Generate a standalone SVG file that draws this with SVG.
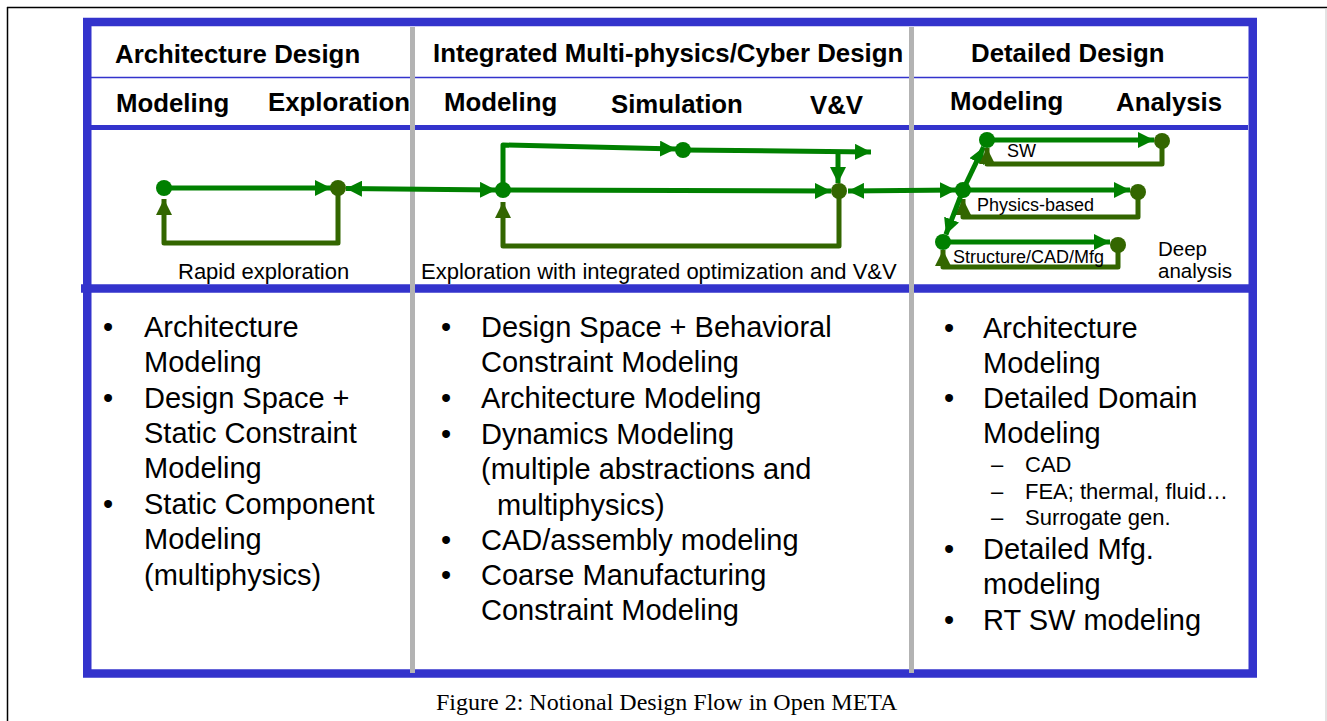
<svg xmlns="http://www.w3.org/2000/svg" width="1327" height="721" viewBox="0 0 1327 721">
<style>
.hd{font-family:"Liberation Sans",Arial,sans-serif;font-weight:bold;font-size:25.8px;fill:#000}
.lb{font-family:"Liberation Sans",Arial,sans-serif;font-size:22px;fill:#000}
.dp{font-family:"Liberation Sans",Arial,sans-serif;font-size:20.5px;fill:#000}
.sm{font-family:"Liberation Sans",Arial,sans-serif;font-size:18px;fill:#000}
.bd{font-family:"Liberation Sans",Arial,sans-serif;font-size:29px;fill:#000}
.sb{font-family:"Liberation Sans",Arial,sans-serif;font-size:22px;fill:#000}
.cap{font-family:"Liberation Serif","Times New Roman",serif;font-size:24px;fill:#000}
.g{stroke:#008000;stroke-width:5;fill:none;stroke-linejoin:round}
.d{stroke:#336600;stroke-width:5;fill:none;stroke-linejoin:round}
.dg{fill:#008000}
.dd{fill:#336600}
.blue{stroke:#3333CC;fill:none}
.gray{stroke:#B3B3B3;stroke-width:5}
</style>
<defs>
<marker id="ag" markerUnits="userSpaceOnUse" markerWidth="16" markerHeight="16" viewBox="0 0 16 16" refX="16" refY="8" orient="auto-start-reverse">
<path d="M0,0 L16,8 L0,16 z" fill="#008000"/>
</marker>
<marker id="ad" markerUnits="userSpaceOnUse" markerWidth="16" markerHeight="16" viewBox="0 0 16 16" refX="16" refY="8" orient="auto-start-reverse">
<path d="M0,0 L16,8 L0,16 z" fill="#336600"/>
</marker>
</defs>
<rect width="1327" height="721" fill="#fff"/>
<g id="page-border">
<line x1="7" y1="7.5" x2="1327" y2="7.5" stroke="#000" stroke-width="1.5"/>
<line x1="7.5" y1="7" x2="7.5" y2="721" stroke="#000" stroke-width="1.5"/>
<line x1="1326" y1="8" x2="1326" y2="721" stroke="#D0D0D0" stroke-width="1.2"/>
</g>
<g id="frame">
<rect class="blue" x="87.25" y="22" width="1165.5" height="651.5" stroke-width="8.5"/>
<line class="blue" x1="91" y1="77.5" x2="1248" y2="77.5" stroke-width="1.5"/>
<line class="blue" x1="91" y1="127.5" x2="1248" y2="127.5" stroke-width="5"/>
<line class="blue" x1="81" y1="288.5" x2="1253" y2="288.5" stroke-width="8.5"/>
<line class="gray" x1="412.5" y1="27" x2="412.5" y2="673"/>
<line class="gray" x1="911.5" y1="27" x2="911.5" y2="673"/>
</g>
<g id="headers">
<text class="hd" x="115" y="63">Architecture Design</text>
<text class="hd" x="433" y="62">Integrated Multi-physics/Cyber Design</text>
<text class="hd" x="971" y="62">Detailed Design</text>
<text class="hd" x="116" y="112">Modeling</text>
<text class="hd" x="268" y="111">Exploration</text>
<text class="hd" x="444" y="111">Modeling</text>
<text class="hd" x="611" y="113">Simulation</text>
<text class="hd" x="810" y="114">V&amp;V</text>
<text class="hd" x="950" y="110">Modeling</text>
<text class="hd" x="1116" y="111">Analysis</text>
</g>
<g id="connectors">
<path class="g" d="M164,188 L331,188" marker-end="url(#ag)"/>
<path class="d" d="M338,188 V243 H164 V199" marker-end="url(#ad)"/>
<path class="g" d="M346,188.5 L496,190" marker-start="url(#ag)" marker-end="url(#ag)"/>
<path class="g" d="M503,190 V145 L676,149" marker-end="url(#ag)"/>
<path class="g" d="M683,150 L871,152" marker-end="url(#ag)"/>
<path class="g" d="M838,152 V183" marker-end="url(#ag)"/>
<path class="g" d="M503,190 L831,191" marker-end="url(#ag)"/>
<path class="d" d="M839,191 V246 H503 V202" marker-end="url(#ad)"/>
<path class="g" d="M848,191 L956,190" marker-start="url(#ag)" marker-end="url(#ag)"/>
<path class="g" d="M963,190 L1130,190" marker-end="url(#ag)"/>
<path class="d" d="M1138,192 V217 H963 V199" marker-end="url(#ad)"/>
<path class="g" d="M963,190 L983.5,147.2" marker-end="url(#ag)"/>
<path class="g" d="M987,140 L1154,140" marker-end="url(#ag)"/>
<path class="d" d="M1162,141 V164 H987 V148" marker-end="url(#ad)"/>
<path class="g" d="M963,190 L945.9,234.5" marker-end="url(#ag)"/>
<path class="g" d="M943,242 L1110,242" marker-end="url(#ag)"/>
<path class="d" d="M1118,245 V267 H943 V250" marker-end="url(#ad)"/>
</g>
<g id="node-arch-model"><circle class="dg" cx="164" cy="188" r="8"/></g>
<g id="node-arch-explore"><circle class="dd" cx="338" cy="188" r="8"/></g>
<g id="node-int-model"><circle class="dg" cx="503" cy="190" r="8"/></g>
<g id="node-int-sim"><circle class="dg" cx="683" cy="150" r="8"/></g>
<g id="node-int-vv"><circle class="dd" cx="839" cy="191" r="8"/></g>
<g id="node-det-model"><circle class="dg" cx="963" cy="190" r="8"/></g>
<g id="node-det-sw"><circle class="dg" cx="987" cy="140" r="8"/></g>
<g id="node-det-struct"><circle class="dg" cx="943" cy="242" r="8"/></g>
<g id="node-ana-sw"><circle class="dd" cx="1162" cy="141" r="8"/></g>
<g id="node-ana-phys"><circle class="dd" cx="1138" cy="192" r="8"/></g>
<g id="node-ana-struct"><circle class="dd" cx="1118" cy="245" r="8"/></g>
<g id="flow-labels">
<text class="lb" x="178" y="279">Rapid exploration</text>
<text class="lb" x="421" y="279">Exploration with integrated optimization and V&amp;V</text>
<text class="sm" x="1007" y="157">SW</text>
<text class="sm" x="977" y="211">Physics-based</text>
<text class="sm" x="953" y="263">Structure/CAD/Mfg</text>
<text class="dp" x="1158" y="256">Deep</text>
<text class="dp" x="1158" y="278">analysis</text>
</g>
<g id="list-architecture">
<text class="bd" x="103" y="336.5">•</text>
<text class="bd" x="144" y="336.5">Architecture</text>
<text class="bd" x="144" y="372">Modeling</text>
<text class="bd" x="103" y="407.5">•</text>
<text class="bd" x="144" y="407.5">Design Space +</text>
<text class="bd" x="144" y="443">Static Constraint</text>
<text class="bd" x="144" y="478">Modeling</text>
<text class="bd" x="103" y="513.5">•</text>
<text class="bd" x="144" y="513.5">Static Component</text>
<text class="bd" x="144" y="549">Modeling</text>
<text class="bd" x="144" y="584.5">(multiphysics)</text>
</g>
<g id="list-integrated">
<text class="bd" x="441" y="336.5">•</text>
<text class="bd" x="481" y="336.5">Design Space + Behavioral</text>
<text class="bd" x="481" y="372">Constraint Modeling</text>
<text class="bd" x="441" y="408">•</text>
<text class="bd" x="481" y="408">Architecture Modeling</text>
<text class="bd" x="441" y="443.5">•</text>
<text class="bd" x="481" y="443.5">Dynamics Modeling</text>
<text class="bd" x="481" y="479">(multiple abstractions and</text>
<text class="bd" x="497" y="514.5">multiphysics)</text>
<text class="bd" x="441" y="550">•</text>
<text class="bd" x="481" y="550">CAD/assembly modeling</text>
<text class="bd" x="441" y="585">•</text>
<text class="bd" x="481" y="585">Coarse Manufacturing</text>
<text class="bd" x="481" y="620">Constraint Modeling</text>
</g>
<g id="list-detailed">
<text class="bd" x="944" y="338">•</text>
<text class="bd" x="983" y="338">Architecture</text>
<text class="bd" x="983" y="373">Modeling</text>
<text class="bd" x="944" y="408">•</text>
<text class="bd" x="983" y="408">Detailed Domain</text>
<text class="bd" x="983" y="443">Modeling</text>
<text class="sb" x="991" y="472">–</text>
<text class="sb" x="1025" y="472">CAD</text>
<text class="sb" x="991" y="498.5">–</text>
<text class="sb" x="1025" y="498.5">FEA; thermal, fluid…</text>
<text class="sb" x="991" y="525">–</text>
<text class="sb" x="1025" y="525">Surrogate gen.</text>
<text class="bd" x="944" y="559">•</text>
<text class="bd" x="983" y="559">Detailed Mfg.</text>
<text class="bd" x="983" y="594">modeling</text>
<text class="bd" x="944" y="630">•</text>
<text class="bd" x="983" y="630">RT SW modeling</text>
</g>
<g id="caption">
<text class="cap" x="436" y="710">Figure 2: Notional Design Flow in Open META</text>
</g>
</svg>
